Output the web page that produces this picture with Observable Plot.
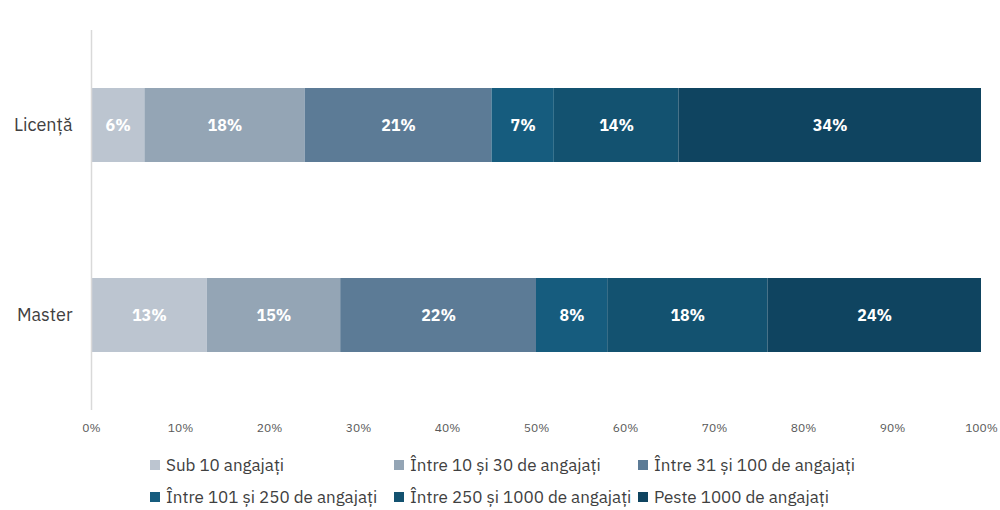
<!DOCTYPE html>
<html>
<head>
<meta charset="utf-8">
<script src="https://cdn.jsdelivr.net/npm/d3@7"></script>
<script src="https://cdn.jsdelivr.net/npm/@observablehq/plot@0.6"></script>
<style>
  html, body { margin: 0; padding: 0; background: #fff; }
  body { width: 1000px; height: 510px; overflow: hidden; font-family: "IBM Plex Sans", "Open Sans", sans-serif; }
  #chart { position: absolute; left: 0; top: 0; }
  #legend { position: absolute; left: 150px; top: 454px; display: grid; grid-template-columns: 244px 244px 244px; row-gap: 10px; }
  .item { display: flex; align-items: center; font-size: 17px; color: #404040; height: 22px; white-space: nowrap; }
  .sw { width: 10px; height: 10px; margin-right: 6px; flex: none; }
</style>
</head>
<body>
<div id="chart"></div>
<div id="legend"></div>
<script>
const levels = ["Licență", "Master"];
const categories = [
  "Sub 10 angajați",
  "Între 10 și 30 de angajați",
  "Între 31 și 100 de angajați",
  "Între 101 și 250 de angajați",
  "Între 250 și 1000 de angajați",
  "Peste 1000 de angajați"
];
const licentaValues = [6, 18, 21, 7, 14, 34];
const masterValues = [13, 15, 22, 8, 18, 24];
const colors = ["#bcc5d0", "#94a5b5", "#5c7b96", "#165c7e", "#135270", "#0f4460"];
const xTicks = [0, 10, 20, 30, 40, 50, 60, 70, 80, 90, 100];

const rows = [];
[licentaValues, masterValues].forEach((vals, i) => {
  let start = 0;
  vals.forEach((v, j) => {
    rows.push({level: levels[i], cat: categories[j], value: v, x1: start, x2: start + v});
    start += v;
  });
});

const chart = Plot.plot({
  width: 1000,
  height: 445,
  marginLeft: 91,
  marginRight: 19,
  marginTop: 30,
  marginBottom: 35,
  style: {fontFamily: "'IBM Plex Sans', 'Open Sans', sans-serif", background: "#fff"},
  x: {domain: [0, 100], ticks: xTicks, tickFormat: d => d + "%", tickSize: 0, tickPadding: 13, label: null},
  y: {domain: levels, paddingInner: 0.61, paddingOuter: 0.305, tickSize: 0, tickPadding: 19, label: null},
  color: {domain: categories, range: colors},
  marks: [
    Plot.barX(rows, {x1: "x1", x2: "x2", y: "level", fill: "cat"}),
    Plot.text(rows, {x: d => (d.x1 + d.x2) / 2, y: "level", text: d => d.value + "%", fill: "white", fontWeight: "bold", fontSize: 16}),
    Plot.ruleX([0], {stroke: "#d9d9d9", strokeWidth: 1.5})
  ]
});
chart.querySelectorAll('g[aria-label="x-axis tick label"] text').forEach(t => { t.style.fontSize = "12px"; t.setAttribute("fill", "#595959"); });
chart.querySelectorAll('g[aria-label="y-axis tick label"] text').forEach(t => { t.style.fontSize = "18px"; t.setAttribute("fill", "#404040"); });
document.getElementById("chart").appendChild(chart);

const legend = document.getElementById("legend");
categories.forEach((c, i) => {
  const it = document.createElement("div");
  it.className = "item";
  const sw = document.createElement("span");
  sw.className = "sw";
  sw.style.background = colors[i];
  const tx = document.createElement("span");
  tx.textContent = c;
  it.appendChild(sw);
  it.appendChild(tx);
  legend.appendChild(it);
});
</script>
</body>
</html>
